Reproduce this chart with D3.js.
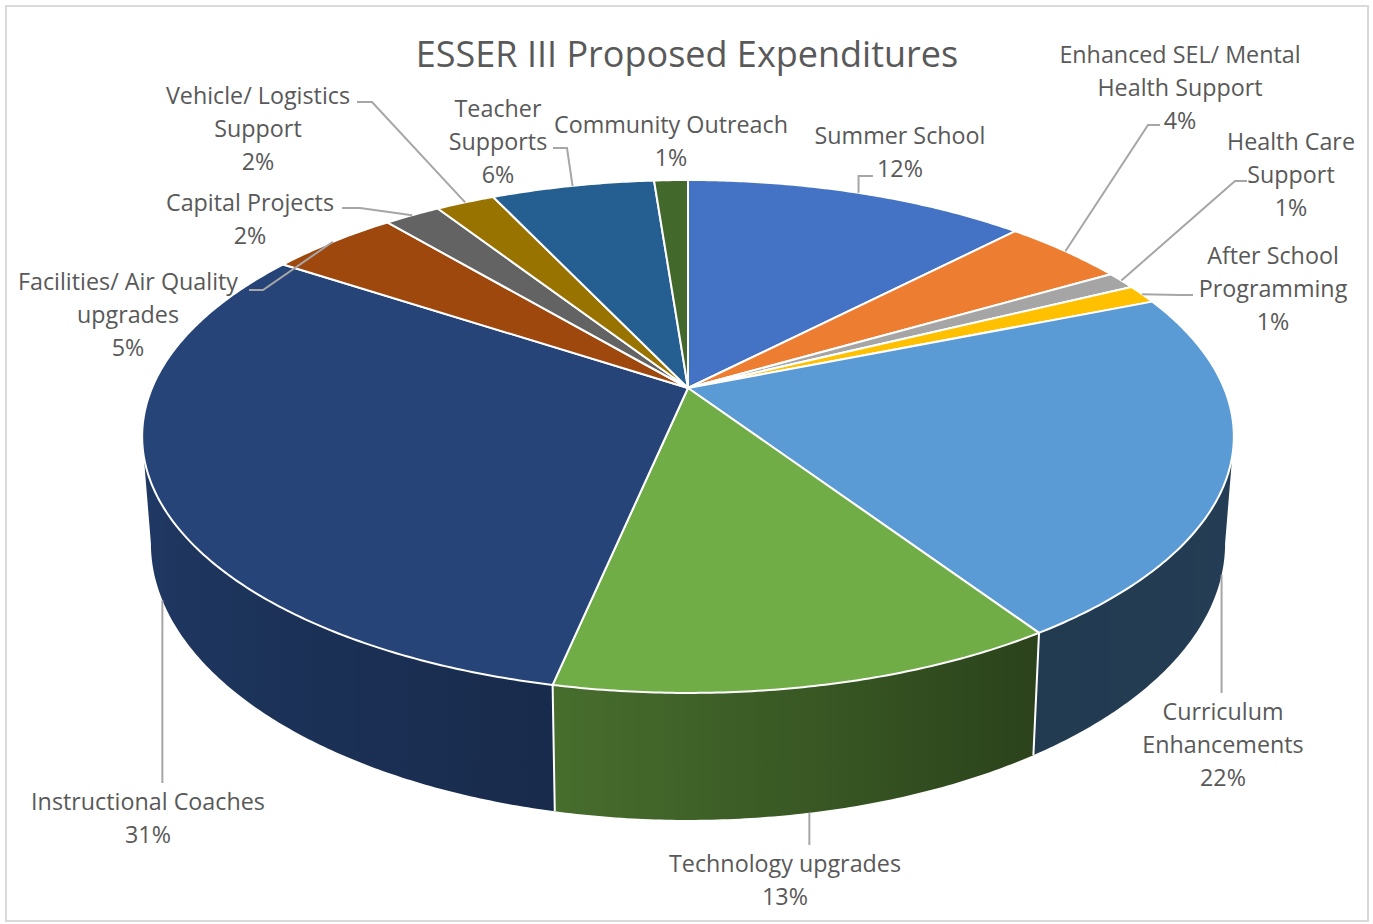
<!DOCTYPE html>
<html>
<head>
<meta charset="utf-8">
<script src="https://cdn.jsdelivr.net/npm/d3@7"></script>
<style>
  body { margin: 0; background: #fff; }
  text { font-family: "Open Sans", Lato, sans-serif; fill: #595959; }
</style>
</head>
<body>
<div id="canvas"></div>
<script>
var categories = ['Summer School', 'Enhanced SEL/ Mental Health Support', 'Health Care Support',
	'After School Programming', 'Curriculum Enhancements', 'Technology upgrades',
	'Instructional Coaches', 'Facilities/ Air Quality upgrades', 'Capital Projects',
	'Vehicle/ Logistics Support', 'Teacher Supports', 'Community Outreach'];
var values = [12.2, 4.4, 1.1, 1.2, 21.8, 12.6, 31.0, 4.6, 2.0, 2.1, 5.8, 1.2];
var colors = ['#4472C4', '#ED7D31', '#A5A5A5', '#FFC000', '#5B9BD5', '#70AD47',
	'#264478', '#9E480E', '#636363', '#997300', '#255E91', '#43682B'];
var title = 'ESSER III Proposed Expenditures';

// como se parte cada etiqueta en lineas
var label_lines = [
	['Summer School'],
	['Enhanced SEL/ Mental', 'Health Support'],
	['Health Care', 'Support'],
	['After School', 'Programming'],
	['Curriculum', 'Enhancements'],
	['Technology upgrades'],
	['Instructional Coaches'],
	['Facilities/ Air Quality', 'upgrades'],
	['Capital Projects'],
	['Vehicle/ Logistics', 'Support'],
	['Teacher', 'Supports'],
	['Community Outreach']
];
// posicion del texto (centro, baseline primera linea) y codo de la linea guia
var label_pos = [
	{x: 900, y: 144, elbow: [[null, 176], [873, 176]]},
	{x: 1180, y: 63, elbow: [[1148, 125], [1160, 125]]},
	{x: 1291, y: 150, elbow: [[1235, 181], [1247, 181]]},
	{x: 1273, y: 264, elbow: [[1180, 295], [1193, 295]]},
	{x: 1223, y: 720, elbow: [[null, 693]]},
	{x: 785, y: 872, elbow: [[null, 845]]},
	{x: 148, y: 810, elbow: [[null, 783]]},
	{x: 128, y: 290, elbow: [[263, 290], [249, 290]]},
	{x: 250, y: 211, elbow: [[360, 208], [342, 208]]},
	{x: 258, y: 104, elbow: [[372, 102], [357, 102]]},
	{x: 498, y: 117, elbow: [[567, 148], [553, 148]]},
	{x: 671, y: 133, elbow: null}
];

var width = 1373, height = 924;

/* ------------- geometria 3d ---------- */
var cx = 688, cy = 388;     // centro de la tarta (vertice de las porciones)
var rx = 536, ry = 247.3;   // semiejes antes de perspectiva
var persp = 0.189;          // factor de perspectiva
var depth = 103;            // grosor
var shrink = 0.984;         // cara inferior algo mas estrecha

function project(angle, bottom) {
	var u = Math.sin(angle), v = -Math.cos(angle), w = 1 - persp * v;
	var sx = bottom ? shrink : 1;
	return [cx + rx * sx * u / w, cy + (ry * v + (bottom ? depth : 0)) / w];
}

var rad = Math.PI / 180;
var vis0 = Math.PI / 2 + Math.asin(persp),
	vis1 = 3 * Math.PI / 2 - Math.asin(persp);

// oscurecimiento del lateral segun angulo
var shade = d3.scaleLinear()
	.domain([100 * rad, 147 * rad, 191 * rad, 259 * rad])
	.range([0.40, 0.38, 0.63, 0.86])
	.clamp(true);

function darker(c, f) {
	var col = d3.rgb(c);
	return d3.rgb(col.r * f, col.g * f, col.b * f).formatHex();
}

var pie = d3.pie().sort(null).value(function(d) { return d; })
	.startAngle(0).endAngle(2 * Math.PI);
var arcs = pie(values);
var total = d3.sum(values);

function rim(a0, a1, bottom) {
	var pts = [];
	var n = Math.max(2, Math.ceil((a1 - a0) / (0.5 * rad)));
	for (var i = 0; i <= n; i++) pts.push(project(a0 + (a1 - a0) * i / n, bottom));
	return pts;
}

var lineFunction = d3.line();

var svg = d3.select('#canvas')
	.append('svg')
	.attr('width', width)
	.attr('height', height);

var defs = svg.append('defs');

svg.append('rect')
	.attr('x', 6).attr('y', 6)
	.attr('width', 1362).attr('height', 915)
	.attr('fill', '#fff')
	.attr('stroke', '#d9d9d9')
	.attr('stroke-width', 2);

// laterales con degradado
var sides = svg.append('g');
arcs.forEach(function(d, i) {
	var a0 = Math.max(d.startAngle, vis0), a1 = Math.min(d.endAngle, vis1);
	if (a1 <= a0) return;
	var xa = project(a0)[0], xb = project(a1)[0];
	var grad = defs.append('linearGradient')
		.attr('id', 'side' + i)
		.attr('gradientUnits', 'userSpaceOnUse')
		.attr('x1', xa).attr('x2', xb)
		.attr('y1', 0).attr('y2', 0);
	var n = 12;
	for (var j = 0; j <= n; j++) {
		var t = a0 + (a1 - a0) * j / n;
		grad.append('stop')
			.attr('offset', (project(t)[0] - xa) / (xb - xa))
			.attr('stop-color', darker(colors[i], shade(t)));
	}
	var pts = rim(a0, a1).concat(rim(a0, a1, true).reverse());
	sides.append('path')
		.attr('d', lineFunction(pts) + 'Z')
		.attr('fill', 'url(#side' + i + ')');
});

// aristas verticales
arcs.forEach(function(d) {
	var a = d.startAngle;
	if (a > vis0 && a < vis1) {
		sides.append('path')
			.attr('d', lineFunction([project(a), project(a, true)]))
			.attr('stroke', '#fff')
			.attr('stroke-width', 2);
	}
});

// caras superiores
svg.append('g').selectAll('path')
	.data(arcs)
	.enter()
	.append('path')
		.attr('d', function(d) {
			return lineFunction([[cx, cy]].concat(rim(d.startAngle, d.endAngle))) + 'Z';
		})
		.attr('fill', function(d, i) { return colors[i]; })
		.attr('stroke', '#fff')
		.attr('stroke-width', 2)
		.attr('stroke-linejoin', 'round');

// lineas guia
var leaders = svg.append('g');
arcs.forEach(function(d, i) {
	var el = label_pos[i].elbow;
	if (!el) return;
	var mid = (d.startAngle + d.endAngle) / 2;
	var front = mid > vis0 && mid < vis1;
	var anchor = project(mid, front);
	var pts = [anchor];
	el.forEach(function(p) { pts.push([p[0] === null ? anchor[0] : p[0], p[1]]); });
	leaders.append('path')
		.attr('d', lineFunction(pts))
		.attr('fill', 'none')
		.attr('stroke', '#a6a6a6')
		.attr('stroke-width', 2);
});

// etiquetas
var labels = svg.append('g');
arcs.forEach(function(d, i) {
	var pos = label_pos[i];
	var lines = label_lines[i].concat([Math.round(d.value / total * 100) + '%']);
	var t = labels.append('text')
		.attr('text-anchor', 'middle')
		.attr('font-size', 23.3);
	lines.forEach(function(s, k) {
		t.append('tspan')
			.attr('x', pos.x)
			.attr('y', pos.y + k * 33)
			.text(s);
	});
});

svg.append('text')
	.attr('x', 687)
	.attr('y', 67)
	.attr('text-anchor', 'middle')
	.attr('font-size', 36)
	.text(title);
</script>
</body>
</html>
